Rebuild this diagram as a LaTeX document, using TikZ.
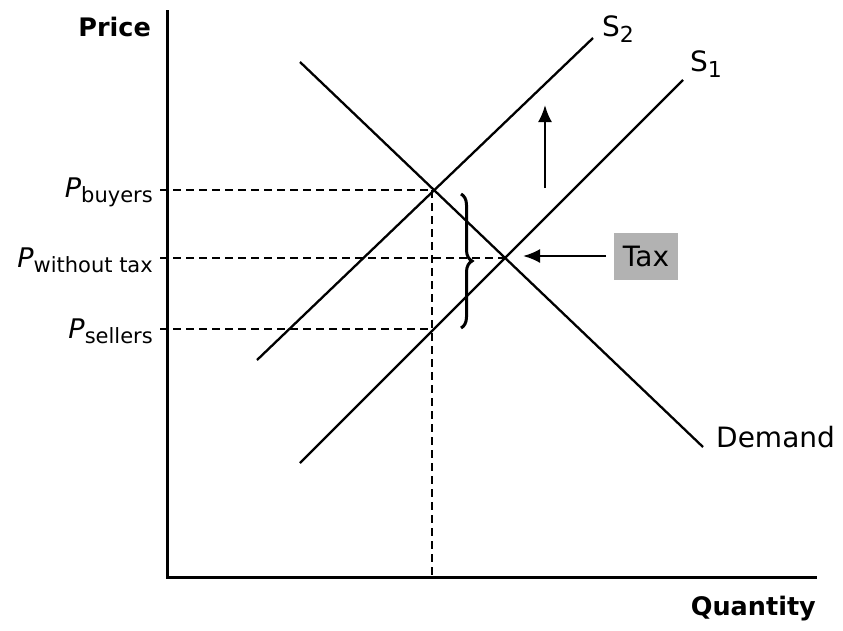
\documentclass[tikz,border=0pt]{standalone}
\usepackage{fontspec}
\setmainfont{DejaVu Sans}
\usetikzlibrary{decorations.pathreplacing,arrows.meta}
\newcommand{\sbs}[1]{\raisebox{-6pt}{\fontsize{22}{24}\selectfont #1}}
\newcommand{\ssub}[1]{\raisebox{-5pt}{\fontsize{21}{22}\selectfont #1}}
\begin{document}
\begin{tikzpicture}[x=1pt,y=-1pt,
  curve/.style={line width=2.3pt},
  axisline/.style={line width=3pt},
  guide/.style={line width=1.8pt,dash pattern=on 8pt off 5pt},
  arr/.style={line width=2.4pt,-{Latex[length=17pt,width=14pt]}},
  lbl/.style={font=\fontsize{28}{30}\selectfont,inner sep=0pt},
  blbl/.style={font=\fontsize{25.5}{28}\selectfont\bfseries,inner sep=0pt},
  plbl/.style={font=\fontsize{27}{29}\selectfont,inner sep=0pt,anchor=east}]
\useasboundingbox (0,0) rectangle (843,630);
% axes
\coordinate (O) at (167,577);
\coordinate (Ytop) at (167,10);
\coordinate (Xend) at (817,577);
\draw[axisline] (Ytop) -- (O) -- (Xend);
% key points
\coordinate (B) at (432,190);
\coordinate (E) at (505,258);
\coordinate (Sl) at (432,329);
\coordinate (Yb) at (160,190);
\coordinate (Ye) at (160,258);
\coordinate (Ys) at (160,329);
\coordinate (Xq) at (432,577);
% curves
\coordinate (D1) at (300,62);
\coordinate (D2) at (703,447);
\coordinate (S1a) at (300,463);
\coordinate (S1b) at (683,80);
\coordinate (S2a) at (257,360);
\coordinate (S2b) at (593,38);
\draw[curve] (D1) -- (D2);
\draw[curve] (S1a) -- (S1b);
\draw[curve] (S2a) -- (S2b);
% guides
\draw[guide] (Yb) -- (B);
\draw[guide] (Ye) -- (E);
\draw[guide] (Ys) -- (Sl);
\draw[guide] (B) -- (Xq);
% brace
\draw[line width=3pt,decorate,decoration={brace,amplitude=11pt}] (461,194) -- (461,328);
% arrows
\coordinate (Ua) at (545,188);
\coordinate (Ub) at (545,105);
\draw[arr] (Ua) -- (Ub);
\node[lbl,fill=black!30,minimum width=64pt,minimum height=47pt] (tax) at (646,256) {Tax};
\coordinate (Ta) at (606,256);
\coordinate (Tb) at (523,256);
\draw[arr] (Ta) -- (Tb);
% labels
\node[blbl,anchor=east] (price) at (151,27) {Price};
\node[blbl,anchor=east] (qty) at (816,609) {Quantity};
\node[lbl,anchor=west] (s2) at (602,29) {S\sbs{2}};
\node[lbl,anchor=west] (s1) at (690,64) {S\sbs{1}};
\node[lbl,anchor=west] (dem) at (716,437) {Demand};
\node[plbl] (pb) at (153,192) {\textit{P}\ssub{buyers}};
\node[plbl] (pw) at (153,260) {\textit{P}\ssub{without tax}};
\node[plbl] (ps) at (153,331) {\textit{P}\ssub{sellers}};
\end{tikzpicture}
\end{document}
